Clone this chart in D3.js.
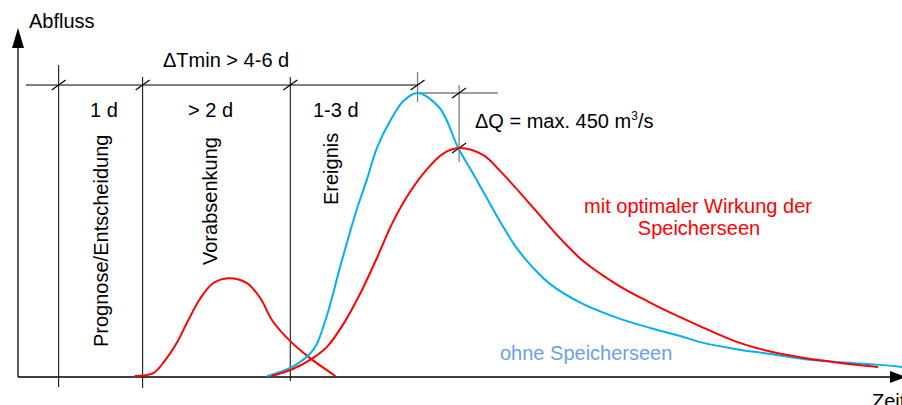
<!DOCTYPE html>
<html>
<head>
<meta charset="utf-8">
<script src="https://cdn.jsdelivr.net/npm/d3@7"></script>
<style>
  html, body { margin: 0; padding: 0; background: #fff; }
  svg { display: block; font-family: Arial, "Liberation Sans", sans-serif; }
</style>
</head>
<body>
<svg id="chart" width="902" height="405"></svg>
<script>
// ---- Data (time t in relative units 0..100, discharge Q in relative units 0..100) ----
const ohneT = [28.2, 30.8, 33.0, 33.8, 35.0, 36.4, 37.6, 38.3, 39.5, 40.6, 42.1, 43.6, 45.2, 47.7, 49.8, 51.1, 52.6, 54.5, 56.4, 58.3, 60.2, 63.9, 67.8, 71.5, 74.9, 77.5, 81.3, 85.1, 88.8, 92.6, 96.4, 100];
const ohneQ = [0.3, 2.6, 6.6, 9.5, 18.1, 31.3, 42.0, 48.0, 57.0, 65.8, 73.6, 79.3, 81.6, 77.3, 65.8, 60.1, 53.4, 44.8, 37.1, 31.3, 26.7, 21.0, 17.0, 14.1, 11.8, 9.8, 8.0, 6.6, 5.2, 4.3, 3.7, 2.9];

const mitT = [28.7, 31.1, 33.4, 35.0, 36.8, 38.7, 40.6, 42.4, 44.3, 46.3, 48.1, 49.9, 52.6, 54.5, 58.3, 60.2, 62.1, 63.9, 67.8, 71.5, 74.9, 77.5, 81.3, 85.1, 88.8, 92.6, 97.3];
const mitQ = [0.3, 2.3, 5.5, 8.8, 15.2, 23.9, 34.2, 44.5, 53.0, 59.8, 64.2, 65.8, 63.8, 59.3, 48.6, 43.0, 37.8, 33.4, 26.5, 21.4, 17.2, 14.2, 10.1, 7.3, 5.5, 4.2, 2.9];

const vorabT = [13.2, 15.3, 16.4, 18.0, 19.1, 20.6, 22.1, 23.8, 25.9, 27.4, 28.8, 30.8, 33.0, 35.9];
const vorabQ = [0.3, 1.1, 4.0, 10.0, 15.5, 22.5, 27.0, 28.4, 27.0, 22.7, 16.1, 10.3, 5.5, 0.3];

// phase boundaries (t) and labels
const phaseT = [4.6, 14.1, 30.8];
const phaseLabels = ["1 d", "> 2 d", "1-3 d"];
const phaseNames = ["Prognose/Entscheidung", "Vorabsenkung", "Ereignis"];
const peakOhne = { t: 45.2, q: 81.6 };
const peakMit = { t: 49.9, q: 65.8 };
const dimQ = 83.9;          // level of the ΔTmin dimension line
const texts = {
  yAxis: "Abfluss", xAxis: "Zeit", dT: "ΔTmin > 4-6 d",
  dQ: "ΔQ = max. 450 m", dQsup: "3", dQend: "/s",
  mit: ["mit optimaler Wirkung der", "Speicherseen"], ohne: "ohne Speicherseen"
};

// ---- Drawing ----
const svg = d3.select("#chart");
const x = d3.scaleLinear().domain([0, 100]).range([18, 902]);
const y = d3.scaleLinear().domain([0, 100]).range([377, 29]);

const RED = "#ff0000", BLUE = "#00b0f0", LBLUE = "#6d9eeb", GRAY = "#7f7f7f";
const FS = 20;

// axes
svg.append("line").attr("x1", x(0)).attr("x2", x(0) + 873).attr("y1", y(0)).attr("y2", y(0))
  .attr("stroke", "#000").attr("stroke-width", 1.3);
svg.append("line").attr("x1", x(0)).attr("x2", x(0)).attr("y1", y(0)).attr("y2", 45)
  .attr("stroke", "#000").attr("stroke-width", 1.3);
svg.append("path").attr("d", `M${x(0)},28 L${x(0) - 6},48 L${x(0) + 6},48 Z`).attr("fill", "#000");
svg.append("path").attr("d", `M890,${y(0) - 6} L906,${y(0)} L890,${y(0) + 6} Z`).attr("fill", "#000");

svg.append("text").attr("x", 29).attr("y", 28).attr("font-size", FS).text(texts.yAxis);
svg.append("text").attr("x", 872).attr("y", 408).attr("font-size", FS).text(texts.xAxis);

// phase verticals
const vTop = [65, 77, 77], vBot = [387, 388, 381];
phaseT.forEach((t, i) => {
  svg.append("line").attr("x1", x(t)).attr("x2", x(t)).attr("y1", vTop[i]).attr("y2", vBot[i])
    .attr("stroke", "#000").attr("stroke-width", 1);
});

// dimension line ΔTmin
svg.append("line").attr("x1", 26).attr("x2", x(peakOhne.t)).attr("y1", y(dimQ)).attr("y2", y(dimQ))
  .attr("stroke", "#000").attr("stroke-width", 1);
svg.append("line").attr("x1", x(peakOhne.t)).attr("x2", x(peakOhne.t)).attr("y1", 72).attr("y2", 102)
  .attr("stroke", GRAY).attr("stroke-width", 1.3);
// ΔQ dimension
svg.append("line").attr("x1", x(peakOhne.t)).attr("x2", 498).attr("y1", y(peakOhne.q)).attr("y2", y(peakOhne.q))
  .attr("stroke", GRAY).attr("stroke-width", 1.6);
svg.append("line").attr("x1", x(peakMit.t)).attr("x2", x(peakMit.t)).attr("y1", 85).attr("y2", 162)
  .attr("stroke", GRAY).attr("stroke-width", 1.3);

// slanted ticks
const ticks = [
  [x(phaseT[0]), y(dimQ)], [x(phaseT[1]), y(dimQ)], [x(phaseT[2]), y(dimQ)],
  [x(peakOhne.t), y(dimQ)], [x(peakMit.t), y(peakOhne.q)], [x(peakMit.t), y(peakMit.q)]
];
ticks.forEach(([cx, cy]) => {
  svg.append("line").attr("x1", cx - 7).attr("y1", cy + 5).attr("x2", cx + 7).attr("y2", cy - 5)
    .attr("stroke", "#000").attr("stroke-width", 1.2);
});

// curves
const line = d3.line().x(d => x(d[0])).y(d => y(d[1])).curve(d3.curveCatmullRom.alpha(0.5));
const zip = (a, b) => a.map((v, i) => [v, b[i]]);
svg.append("path").datum(zip(vorabT, vorabQ)).attr("d", line)
  .attr("fill", "none").attr("stroke", RED).attr("stroke-width", 2);
svg.append("path").datum(zip(ohneT, ohneQ)).attr("d", line)
  .attr("fill", "none").attr("stroke", BLUE).attr("stroke-width", 2);
svg.append("path").datum(zip(mitT, mitQ)).attr("d", line)
  .attr("fill", "none").attr("stroke", RED).attr("stroke-width", 2);

// texts
svg.append("text").attr("x", 163).attr("y", 67).attr("font-size", FS).text(texts.dT);
const lblX = [90, 188, 313];
phaseLabels.forEach((s, i) => {
  svg.append("text").attr("x", lblX[i]).attr("y", 117).attr("font-size", FS).text(s);
});
const nameX = [108, 217, 338], nameY = [347, 265, 205];
phaseNames.forEach((s, i) => {
  svg.append("text").attr("transform", `translate(${nameX[i]},${nameY[i]}) rotate(-90)`)
    .attr("font-size", FS).text(s);
});
const dq = svg.append("text").attr("x", 475).attr("y", 128).attr("font-size", FS);
dq.append("tspan").text(texts.dQ);
dq.append("tspan").attr("font-size", 12).attr("dy", -8).text(texts.dQsup);
dq.append("tspan").attr("dy", 8).text(texts.dQend);

svg.append("text").attr("x", 698).attr("y", 213).attr("font-size", FS).attr("fill", RED)
  .attr("text-anchor", "middle").text(texts.mit[0]);
svg.append("text").attr("x", 699).attr("y", 235).attr("font-size", FS).attr("fill", RED)
  .attr("text-anchor", "middle").text(texts.mit[1]);
svg.append("text").attr("x", 500).attr("y", 360).attr("font-size", FS).attr("fill", LBLUE)
  .text(texts.ohne);
</script>
</body>
</html>
